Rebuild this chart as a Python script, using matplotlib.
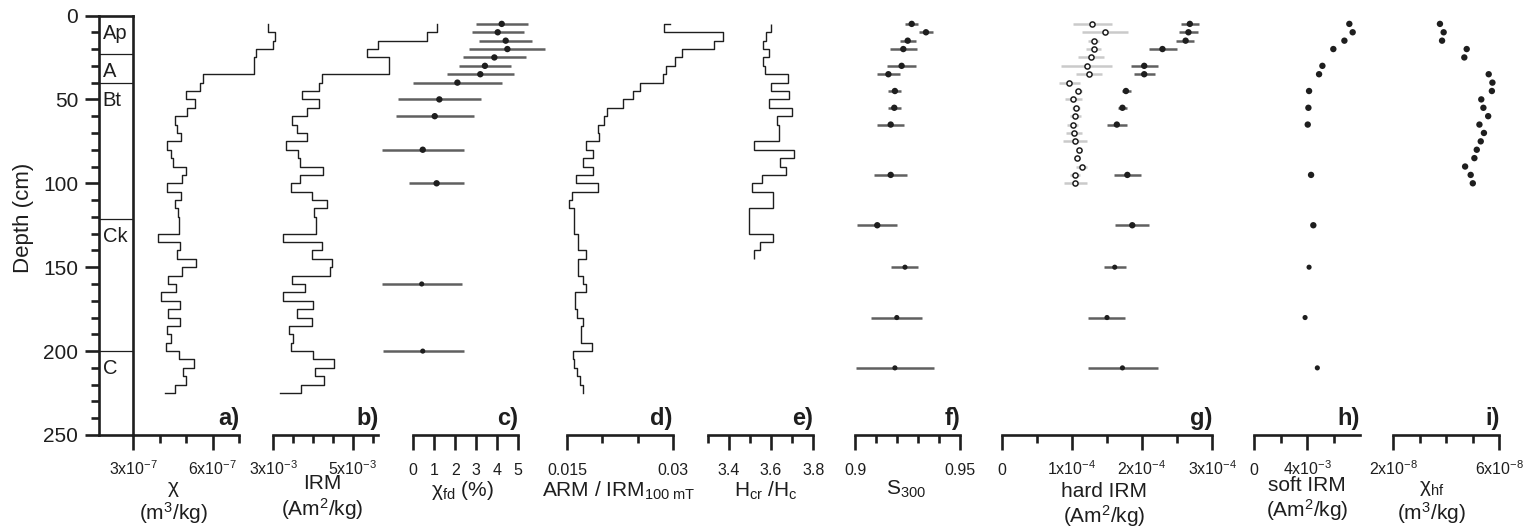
# === PERFIL MAGNETICO DEL SUELO - REPRODUCCION DE LA FIGURA ===

import numpy as np
import matplotlib
matplotlib.use("Agg")
import matplotlib.pyplot as plt
from matplotlib.ticker import MultipleLocator

# === CONFIGURACION GENERAL ===
plt.rcParams["font.family"] = ["Liberation Sans", "DejaVu Sans"]
plt.rcParams["mathtext.fontset"] = "custom"
plt.rcParams["mathtext.rm"] = "Liberation Sans"
plt.rcParams["mathtext.it"] = "Liberation Sans:italic"
plt.rcParams["mathtext.bf"] = "Liberation Sans:bold"
plt.rcParams["mathtext.default"] = "regular"

ANCHO, ALTO = 1535, 529
Y_SUP, Y_INF = 15.5, 435.0  # px donde caen 0 y 250 cm
NEGRO = "#1e1e1e"
GRIS = "#606060"
GRIS_CLARO = "#cacaca"

# === DATOS ===
horizontes = ["Ap", "A", "Bt", "Ck", "C"]
techo_horizonte = [0, 23, 40, 121, 200]

# perfiles continuos, una muestra cada 5 cm
prof_5cm = [5, 10, 15, 20, 25, 30, 35, 40, 45, 50, 55, 60, 65, 70, 75, 80, 85, 90,
            95, 100, 105, 110, 115, 120, 125, 130, 135, 140, 145, 150, 155, 160,
            165, 170, 175, 180, 185, 190, 195, 200, 205, 210, 215, 220, 225]
chi = [8.1, 8.35, 8.27, 7.64, 7.56, 7.56, 5.64, 5.53, 5.0, 5.35, 5.05, 4.56, 4.65,
       4.81, 4.27, 4.42, 4.5, 5.0, 4.86, 4.27, 4.8, 4.58, 4.7, 4.73, 4.73, 3.95,
       4.78, 4.65, 5.38, 4.86, 4.33, 4.62, 4.05, 4.78, 4.31, 4.78, 4.27, 4.42,
       4.24, 4.74, 5.28, 4.87, 5.0, 4.56, 4.2]  # x1e-7 m3/kg
irm = [7.12, 6.88, 5.65, 5.37, 5.91, 5.91, 4.22, 4.16, 3.73, 4.15, 3.86, 3.46, 3.6,
       3.84, 3.31, 3.63, 3.67, 4.26, 3.67, 3.44, 3.98, 4.35, 4.03, 4.07, 4.07, 3.25,
       4.22, 3.97, 4.47, 4.43, 3.48, 3.8, 3.24, 4.01, 3.6, 3.97, 3.4, 3.49, 3.44,
       3.99, 4.53, 4.05, 4.28, 3.69, 3.17]  # x1e-3 Am2/kg
arm_irm = [0.0296, 0.0288, 0.0371, 0.0359, 0.0313, 0.0303, 0.0290, 0.0286, 0.0254,
           0.0243, 0.0229, 0.0207, 0.0202, 0.0194, 0.0195, 0.0177, 0.0186, 0.0172,
           0.0186, 0.0162, 0.0194, 0.0156, 0.0152, 0.0160, 0.0160, 0.0160, 0.0165,
           0.0165, 0.0176, 0.0165, 0.0165, 0.0173, 0.0177, 0.0161, 0.0161, 0.0164,
           0.0173, 0.0170, 0.0170, 0.0185, 0.0158, 0.0160, 0.0164, 0.0168, 0.0173]

bordes_hcr = [5, 10, 15, 20, 25, 30, 35, 40, 45, 50, 55, 60, 65, 70, 75, 80, 85,
              90, 95, 100, 105, 110, 115, 120, 125, 130, 135, 140, 145]
hcr_hc = [3.600, 3.575, 3.560, 3.589, 3.560, 3.571, 3.680, 3.600, 3.687, 3.590,
          3.699, 3.630, 3.638, 3.638, 3.519, 3.710, 3.640, 3.670, 3.559, 3.508,
          3.608, 3.608, 3.497, 3.497, 3.497, 3.608, 3.548, 3.519]

# muestras discretas
prof_fd = [5, 10, 15, 20, 25, 30, 35, 40, 50, 60, 80, 100, 160, 200]
chi_fd = [4.21, 4.02, 4.4, 4.48, 3.86, 3.41, 3.19, 2.1, 1.24, 1.02, 0.45, 1.11, 0.4, 0.45]
chi_fd_min = [2.97, 2.78, 3.13, 2.67, 2.38, 2.19, 1.62, -0.03, -0.73, -0.83, -1.5,
              -0.19, -1.48, -1.43]
chi_fd_max = [5.45, 5.29, 5.66, 6.27, 5.35, 4.65, 4.78, 4.21, 3.24, 2.88, 2.43, 2.41,
              2.3, 2.43]

prof_s = [5, 10, 15, 20, 30, 35, 45, 55, 65, 95, 125, 150, 180, 210]
s300 = [0.927, 0.9338, 0.9251, 0.923, 0.9222, 0.9159, 0.919, 0.9187, 0.917, 0.917,
        0.9106, 0.9238, 0.9199, 0.919]
s300_min = [0.9238, 0.9305, 0.9214, 0.9167, 0.9154, 0.9103, 0.9159, 0.9156, 0.9106,
            0.9092, 0.9011, 0.917, 0.9076, 0.9003]
s300_max = [0.9301, 0.9373, 0.9289, 0.9294, 0.929, 0.9214, 0.9219, 0.9219, 0.9233,
            0.9246, 0.9201, 0.9301, 0.9317, 0.9378]

hirm = [2.68, 2.66, 2.62, 2.29, 2.03, 2.03, 1.77, 1.72, 1.64, 1.79, 1.86, 1.61, 1.50,
        1.72]  # x1e-4 Am2/kg
hirm_min = [2.56, 2.53, 2.49, 2.10, 1.84, 1.89, 1.71, 1.65, 1.50, 1.60, 1.62, 1.46,
            1.23, 1.23]
hirm_max = [2.81, 2.80, 2.74, 2.50, 2.22, 2.18, 1.84, 1.79, 1.79, 1.98, 2.10, 1.77,
            1.76, 2.22]

prof_hirm2 = [5, 10, 15, 20, 25, 30, 35, 40, 45, 50, 55, 60, 65, 70, 75, 80, 85, 90,
              95, 100]
hirm2 = [1.29, 1.47, 1.31, 1.31, 1.27, 1.21, 1.25, 0.96, 1.09, 1.02, 1.06, 1.05, 1.01,
         1.03, 1.05, 1.10, 1.07, 1.14, 1.05, 1.05]
hirm2_min = [1.01, 1.14, 1.23, 1.20, 1.08, 0.85, 1.06, 0.81, 1.05, 0.90, 1.00, 0.98,
             0.93, 0.92, 0.87, 1.06, 1.03, 1.06, 0.98, 0.89]
hirm2_max = [1.57, 1.80, 1.39, 1.42, 1.46, 1.57, 1.43, 1.12, 1.14, 1.15, 1.12, 1.13,
             1.09, 1.14, 1.22, 1.14, 1.11, 1.22, 1.12, 1.21]

soft_irm = [7.15, 7.40, 6.78, 5.95, 5.13, 4.88, 4.13, 4.08, 4.03, 4.28, 4.45, 4.13,
            3.83, 4.75]  # x1e-3 Am2/kg, mismas profundidades que prof_s

prof_hf = [5, 10, 15, 20, 25, 35, 40, 45, 50, 55, 60, 65, 70, 75, 80, 85, 90, 95, 100]
chi_hf = [3.76, 3.90, 3.84, 4.77, 4.68, 5.60, 5.74, 5.72, 5.32, 5.40, 5.58, 5.25, 5.42,
          5.30, 5.15, 5.06, 4.71, 4.92, 5.0]  # x1e-8 m3/kg

# ticks de cada panel
ticks_a, etiq_a, menores_a = [3, 6], ["3x10$^{-7}$", "6x10$^{-7}$"], [4, 5, 7]
ticks_b, etiq_b, menores_b = [3, 5], ["3x10$^{-3}$", "5x10$^{-3}$"], [3.5, 4, 4.5, 5.5]
ticks_c, etiq_c, menores_c = [0, 1, 2, 3, 4, 5], ["0", "1", "2", "3", "4", "5"], []
ticks_d, etiq_d, menores_d = [0.015, 0.03], ["0.015", "0.03"], [0.02, 0.025]
ticks_e, etiq_e, menores_e = [3.4, 3.6, 3.8], ["3.4", "3.6", "3.8"], [3.3, 3.5, 3.7]
ticks_f, etiq_f, menores_f = [0.9, 0.95], ["0.9", "0.95"], [0.91, 0.92, 0.93, 0.94]
ticks_g = [0, 1, 2, 3]
etiq_g = ["0", "1x10$^{-4}$", "2x10$^{-4}$", "3x10$^{-4}$"]
menores_g = [0.5, 1.5, 2.5]
ticks_h, etiq_h, menores_h = [0, 4], ["0", "4x10$^{-3}$"], [2, 6]
ticks_i, etiq_i, menores_i = [2, 6], ["2x10$^{-8}$", "6x10$^{-8}$"], [3, 4, 5]


# === FUNCIONES ===
def eje_px(fig, x0, x1):
    return fig.add_axes([x0 / ANCHO, 1 - Y_INF / ALTO, (x1 - x0) / ANCHO,
                         (Y_INF - Y_SUP) / ALTO])


def frac_y(y_px):
    # pasa un px vertical de la figura a fraccion del eje
    return -(y_px - Y_INF) / (Y_INF - Y_SUP)


def preparar(ax, xlim, mayores, etiquetas, menores, letra):
    ax.set_xlim(*xlim)
    ax.set_ylim(250, 0)
    for lado in ["top", "right", "left"]:
        ax.spines[lado].set_visible(False)
    ax.spines["bottom"].set_linewidth(1.9)
    ax.spines["bottom"].set_color(NEGRO)
    ax.patch.set_alpha(0)
    ax.set_yticks([])
    ax.set_xticks(mayores)
    ax.set_xticklabels(etiquetas)
    ax.set_xticks(menores, minor=True)
    ax.tick_params(axis="x", which="major", direction="out", length=11, width=1.9,
                   pad=18, labelsize=11.5, color=NEGRO, labelcolor=NEGRO)
    ax.tick_params(axis="x", which="minor", direction="out", length=5.5, width=1.9,
                   color=NEGRO)
    for t in ax.get_xticklabels():
        t.set_va("baseline")
    ax.text(1.0, frac_y(425), letra, transform=ax.transAxes, ha="right",
            va="baseline", fontsize=17, fontweight="bold", color=NEGRO)


def rotulo(ax, lineas, xfrac, bases):
    for texto, base in zip(lineas, bases):
        ax.text(xfrac, frac_y(base), texto, transform=ax.transAxes, ha="center",
                va="baseline", fontsize=15, color=NEGRO)


def puntos(ax, x, prof, relleno=True):
    prof = np.asarray(prof)
    tam = np.where(prof < 140, 4.6, 3.7)
    if relleno:
        ax.scatter(x, prof, s=tam ** 2, c=NEGRO, linewidths=0, zorder=4, clip_on=False)
    else:
        ax.scatter(x, prof, s=3.7 ** 2, facecolors="white", edgecolors=NEGRO,
                   linewidths=1.1, zorder=4, clip_on=False)


def barras(ax, prof, lo, hi, color):
    ax.hlines(prof, lo, hi, colors=color, linewidth=1.8, zorder=2, clip_on=False)


# === FIGURA ===
fig = plt.figure(figsize=(ANCHO / 100, ALTO / 100), dpi=100)

# columna de horizontes + eje de profundidad
ax0 = eje_px(fig, 99, 133.3)
ax0.set_xlim(0, 1)
ax0.set_ylim(250, 0)
ax0.set_xticks([])
for s in ax0.spines.values():
    s.set_linewidth(1.9)
    s.set_color(NEGRO)
ax0.yaxis.set_major_locator(MultipleLocator(50))
ax0.yaxis.set_minor_locator(MultipleLocator(10))
ax0.tick_params(axis="y", which="major", length=10, width=1.9, labelsize=15, pad=5,
                color=NEGRO, labelcolor=NEGRO)
ax0.tick_params(axis="y", which="minor", length=5.5, width=1.9, color=NEGRO)
for techo in techo_horizonte[1:]:
    ax0.axhline(techo, color=NEGRO, lw=0.9)
for nombre, techo in zip(horizontes, techo_horizonte):
    ax0.text(0.11, techo + 10.5, nombre, fontsize=14.5, ha="left", va="center", color=NEGRO)
fig.text(23 / ANCHO, 1 - 218 / ALTO, "Depth (cm)", rotation=90, ha="center",
         va="center", fontsize=16, color=NEGRO)

# a) susceptibilidad
ax_a = eje_px(fig, 133.3, 239)
preparar(ax_a, (3, 7), ticks_a, etiq_a, menores_a, "a)")
ax_a.plot(chi, prof_5cm, drawstyle="steps-pre", color=NEGRO, lw=1.0, clip_on=False)
rotulo(ax_a, ["χ", "(m$^3$/kg)"], 0.38, [493, 520])

# b) IRM
ax_b = eje_px(fig, 273.3, 378.3)
preparar(ax_b, (3, 5.645), ticks_b, etiq_b, menores_b, "b)")
ax_b.plot(irm, prof_5cm, drawstyle="steps-pre", color=NEGRO, lw=1.0, clip_on=False)
rotulo(ax_b, ["IRM", "(Am$^2$/kg)"], 0.47, [489, 516])

# c) chi fd
ax_c = eje_px(fig, 413.3, 518.3)
preparar(ax_c, (0, 5), ticks_c, etiq_c, menores_c, "c)")
barras(ax_c, prof_fd, chi_fd_min, chi_fd_max, GRIS)
puntos(ax_c, chi_fd, prof_fd)
rotulo(ax_c, ["χ$_{fd}$ (%)"], 0.47, [496])

# d) ARM / IRM
ax_d = eje_px(fig, 567.3, 672.7)
preparar(ax_d, (0.015, 0.03), ticks_d, etiq_d, menores_d, "d)")
ax_d.plot(arm_irm, prof_5cm, drawstyle="steps-post", color=NEGRO, lw=1.0, clip_on=False)
rotulo(ax_d, ["ARM / IRM$_{100\\ mT}$"], 0.49, [497])

# e) Hcr/Hc
ax_e = eje_px(fig, 707.7, 813.3)
preparar(ax_e, (3.3, 3.8), ticks_e, etiq_e, menores_e, "e)")
esc = ax_e.stairs(hcr_hc, bordes_hcr, orientation="horizontal", baseline=None,
                  color=NEGRO, lw=1.0)
esc.set_clip_on(False)
rotulo(ax_e, ["H$_{cr}$ /H$_{c}$"], 0.55, [497])

# f) S300
ax_f = eje_px(fig, 855, 960)
preparar(ax_f, (0.9, 0.95), ticks_f, etiq_f, menores_f, "f)")
barras(ax_f, prof_s, s300_min, s300_max, GRIS)
puntos(ax_f, s300, prof_s)
rotulo(ax_f, ["S$_{300}$"], 0.49, [495])

# g) hard IRM
ax_g = eje_px(fig, 1001.7, 1212.3)
preparar(ax_g, (0, 3), ticks_g, etiq_g, menores_g, "g)")
barras(ax_g, prof_hirm2, hirm2_min, hirm2_max, GRIS_CLARO)
barras(ax_g, prof_s, hirm_min, hirm_max, GRIS)
puntos(ax_g, hirm2, prof_hirm2, relleno=False)
puntos(ax_g, hirm, prof_s)
rotulo(ax_g, ["hard IRM", "(Am$^2$/kg)"], 0.486, [497, 523])

# h) soft IRM
ax_h = eje_px(fig, 1254, 1360)
preparar(ax_h, (0, 7.95), ticks_h, etiq_h, menores_h, "h)")
puntos(ax_h, soft_irm, prof_s)
rotulo(ax_h, ["soft IRM", "(Am$^2$/kg)"], 0.5, [491, 517])

# i) chi hf
ax_i = eje_px(fig, 1393.3, 1499.3)
preparar(ax_i, (2, 6), ticks_i, etiq_i, menores_i, "i)")
puntos(ax_i, chi_hf, prof_hf)
rotulo(ax_i, ["χ$_{hf}$", "(m$^3$/kg)"], 0.36, [492, 520])

fig.savefig("out.png", dpi=100)
